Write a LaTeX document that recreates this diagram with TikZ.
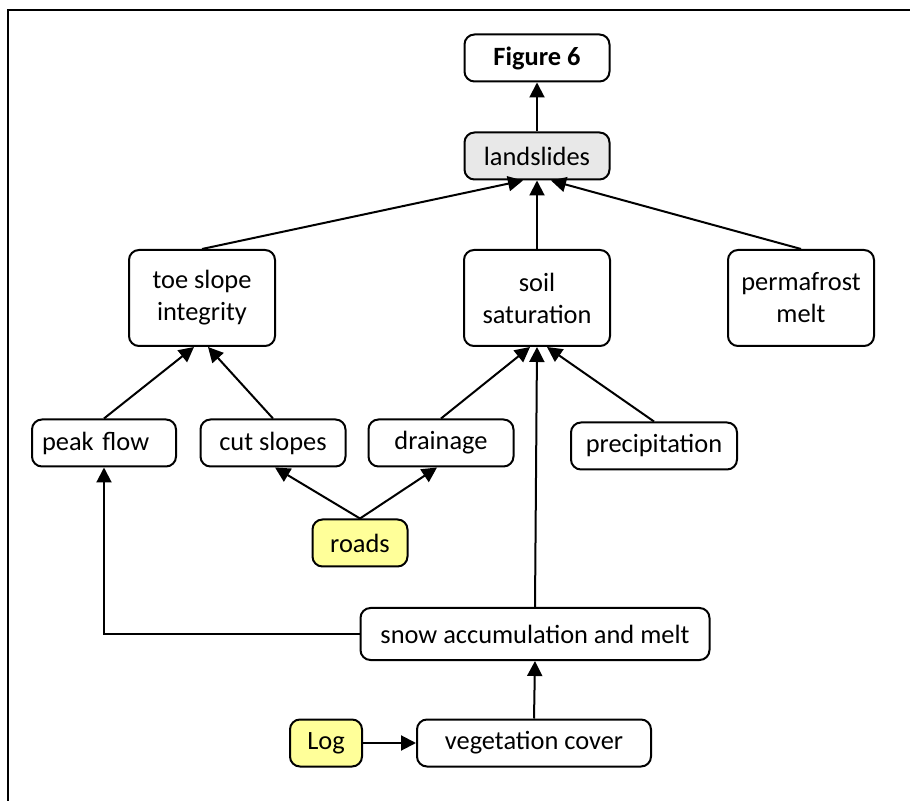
\documentclass[tikz,border=0pt]{standalone}
\usepackage{fontspec}
\setmainfont{Carlito}
\usetikzlibrary{arrows.meta,calc}
\definecolor{roadyellow}{HTML}{FFFF99}
\definecolor{boxgray}{HTML}{E8E8E8}
\begin{document}
\begin{tikzpicture}[x=0.5pt,y=-0.5pt,
  box/.style={draw=black, line width=1pt, rounded corners=5pt, fill=white,
    align=center, inner sep=2pt, font=\fontsize{13.2}{16}\selectfont},
  onebox/.style={box, minimum width=72.5pt, minimum height=23.5pt},
  twobox/.style={box, minimum width=73pt, minimum height=48pt},
  yellowbox/.style={box, fill=roadyellow, minimum height=23.5pt},
  arr/.style={line width=1pt, -{Triangle[length=7.5pt,width=7.5pt]}}]
\useasboundingbox (0,0) rectangle (910,801);
\clip (0,0) rectangle (910,801);
% outer frame
\draw[line width=1.2pt] (8,10) rectangle (930,830);

% nodes
\node[onebox, font=\fontsize{13.2}{16}\selectfont\bfseries] (fig) at (537,58) {Figure 6};
\node[onebox, fill=boxgray] (ls) at (537,156) {landslides};
\node[twobox] (toe) at (202,298) {toe slope\\integrity};
\node[twobox] (soil) at (537,298) {soil\\saturation};
\node[twobox] (perm) at (801,298) {permafrost\\melt};
\node[onebox, text width=62pt, align=left, inner xsep=5pt, minimum width=72pt] (peak) at (104,443) {peak flow};
\node[onebox] (cut) at (273,443) {cut slopes};
\node[onebox] (drain) at (441,443) {drainage};
\node[onebox, minimum width=83pt] (prec) at (654,446) {precipitation};
\node[yellowbox, minimum width=47.5pt] (roads) at (360,543) {roads};
\node[box, minimum width=174.5pt, minimum height=26pt] (snow) at (535,634) {snow accumulation and melt};
\node[yellowbox, minimum width=36pt] (log) at (326,743) {Log};
\node[box, minimum width=117pt, minimum height=23.5pt] (veg) at (534,743) {vegetation cover};

% arrow ends on shared lower edges
\coordinate (lsL) at ($(ls.south)+(-14,0)$);
\coordinate (lsR) at ($(ls.south)+(14,0)$);
\coordinate (soilL) at ($(soil.south)+(-7,0)$);
\coordinate (soilR) at ($(soil.south)+(10,0)$);
\coordinate (toeL) at ($(toe.south)+(-8,0)$);
\coordinate (toeR) at ($(toe.south)+(6,0)$);
\coordinate (cutE) at ($(cut.south)+(2,0)$);
\coordinate (drainE) at ($(drain.south)+(-4,0)$);
\coordinate (bend) at (peak.south |- snow.west);

% connectors
\draw[arr] (ls.north) -- (fig.south);
\draw[arr] (toe.north) -- (lsL);
\draw[arr] (soil.north) -- (ls.south);
\draw[arr] (perm.north) -- (lsR);
\draw[arr] (peak.north) -- (toeL);
\draw[arr] (cut.north) -- (toeR);
\draw[arr] (drain.north) -- (soilL);
\draw[arr] (snow.north) -- (soil.south);
\draw[arr] (prec.north) -- (soilR);
\draw[arr] (roads.north) -- (cutE);
\draw[arr] (roads.north) -- (drainE);
\draw[arr] (snow.west) -- (bend) -- (peak.south);
\draw[arr] (veg.north) -- (snow.south);
\draw[arr] (log.east) -- (veg.west);
\end{tikzpicture}
\end{document}
